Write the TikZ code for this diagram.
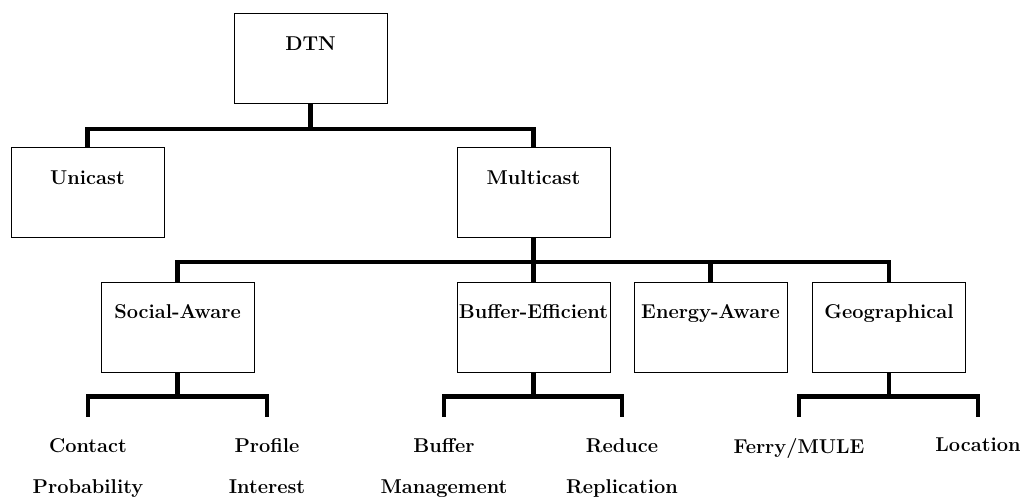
\documentclass[tikz,border=0pt]{standalone}
\usetikzlibrary{positioning}

\tikzset{
    box/.style={draw, line width=0.9pt, minimum width=153pt, minimum height=90pt,
        inner xsep=1pt, text height=14pt, text depth=30pt,
        font=\fontsize{20}{41}\selectfont\bfseries},
    leaf/.style={anchor=north, inner xsep=0pt, inner ysep=21pt, align=center,
        font=\fontsize{20}{41}\selectfont\bfseries},
    link/.style={line width=4.8pt}
}

\begin{document}
\begin{tikzpicture}[x=1pt,y=-1pt]
    \useasboundingbox (0,0) rectangle (1021,497);

    \node[box] (dtn) at (310.5,58.5){DTN};

    \node[box] (uni) at (87.5,192.5){Unicast};
    \node[box] (multi) at (533.5,192.5){Multicast};

    \node[box] (social) at (177.5,327){Social-Aware};
    \node[box] (buffer) at (533.5,327){Buffer-Efficient};
    \node[box] (energy) at (710.5,327){Energy-Aware};
    \node[box] (geo) at (889,327){Geographical};

    \node[leaf] (contact) at (88,417){Contact\\Probability};
    \node[leaf] (profile) at (267,417){Profile\\Interest};
    \node[leaf] (bufman) at (444,417){Buffer\\Management};
    \node[leaf] (reduce) at (622,417){Reduce\\Replication};
    \node[leaf] (ferry) at (799,417){Ferry/MULE};
    \node[leaf] (location) at (978,417){Location};

%    level 1
    \draw[link] (dtn.south) -- ++(0,25) -| (uni.north);
    \draw[link] (dtn.south) -- ++(0,25) -| (multi.north);

%    level 2
    \foreach \n in {social,buffer,energy,geo}
        \draw[link] (multi.south) -- ++(0,24) -| (\n.north);

%    level 3
    \draw[link] (social.south) -- ++(0,24) -| (contact.north);
    \draw[link] (social.south) -- ++(0,24) -| (profile.north);
    \draw[link] (buffer.south) -- ++(0,24) -| (bufman.north);
    \draw[link] (buffer.south) -- ++(0,24) -| (reduce.north);
    \draw[link] (geo.south) -- ++(0,24) -| (ferry.north);
    \draw[link] (geo.south) -- ++(0,24) -| (location.north);

\end{tikzpicture}
\end{document}
